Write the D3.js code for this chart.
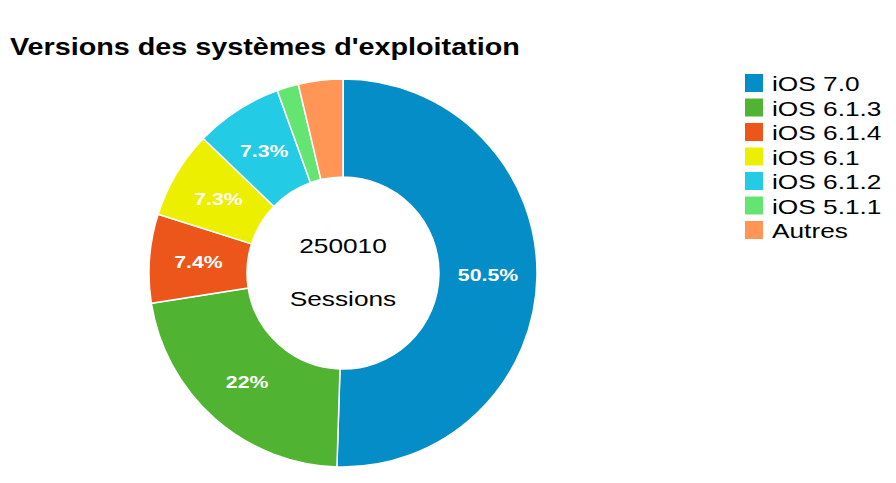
<!DOCTYPE html><html><head><meta charset="utf-8">
<script src="https://cdn.jsdelivr.net/npm/d3@7"></script>
<style>body{margin:0;background:#fff;font-family:"Liberation Sans",Arial,sans-serif}</style>
</head><body><svg id="c" width="896" height="483"></svg>
<script>
const categories=["iOS 7.0","iOS 6.1.3","iOS 6.1.4","iOS 6.1","iOS 6.1.2","iOS 5.1.1","Autres"];
const values=[50.5,22,7.4,7.3,7.3,1.8,3.7];
const labels=["50.5%","22%","7.4%","7.3%","7.3%","",""];
const colors=["#058dc7","#50b432","#ed561b","#edef00","#24cbe5","#64e572","#ff9655"];
const svg=d3.select("#c");
const sx=1.25;
function st(sel,x,y){return sel.attr("transform",`translate(${x},${y}) scale(${sx},1)`);}
st(svg.append("text"),10,55).attr("font-size",23).attr("font-weight","bold").text("Versions des systèmes d'exploitation");
const cx=343,cy=273,R=194,r=96;
const g=svg.append("g").attr("transform",`translate(${cx},${cy})`);
const pie=d3.pie().sort(null).value(d=>d)(values);
const arc=d3.arc().innerRadius(r).outerRadius(R);
g.selectAll("path").data(pie).join("path").attr("d",arc).attr("fill",(d,i)=>colors[i]).attr("stroke","#fff").attr("stroke-width",1.5);
const la=d3.arc().innerRadius((r+R)/2).outerRadius((r+R)/2);
g.selectAll("text.l").data(pie).join("text").attr("class","l").attr("transform",d=>{const c=la.centroid(d);return `translate(${c[0]},${c[1]}) scale(${sx},1)`;})
 .attr("text-anchor","middle").attr("dy","0.35em").attr("fill","#fff").attr("font-weight","bold").attr("font-size",17).text((d,i)=>labels[i]);
st(g.append("text"),0,-20).attr("text-anchor","middle").attr("font-size",21).text("250010");
st(g.append("text"),0,33).attr("text-anchor","middle").attr("font-size",21).text("Sessions");
const lg=svg.append("g").attr("transform","translate(745,74)");
categories.forEach((c,i)=>{
 lg.append("rect").attr("x",0).attr("y",i*24.5).attr("width",18).attr("height",18).attr("fill",colors[i]);
 st(lg.append("text"),27,i*24.5+17).attr("font-size",21).text(c);
});
</script></body></html>
